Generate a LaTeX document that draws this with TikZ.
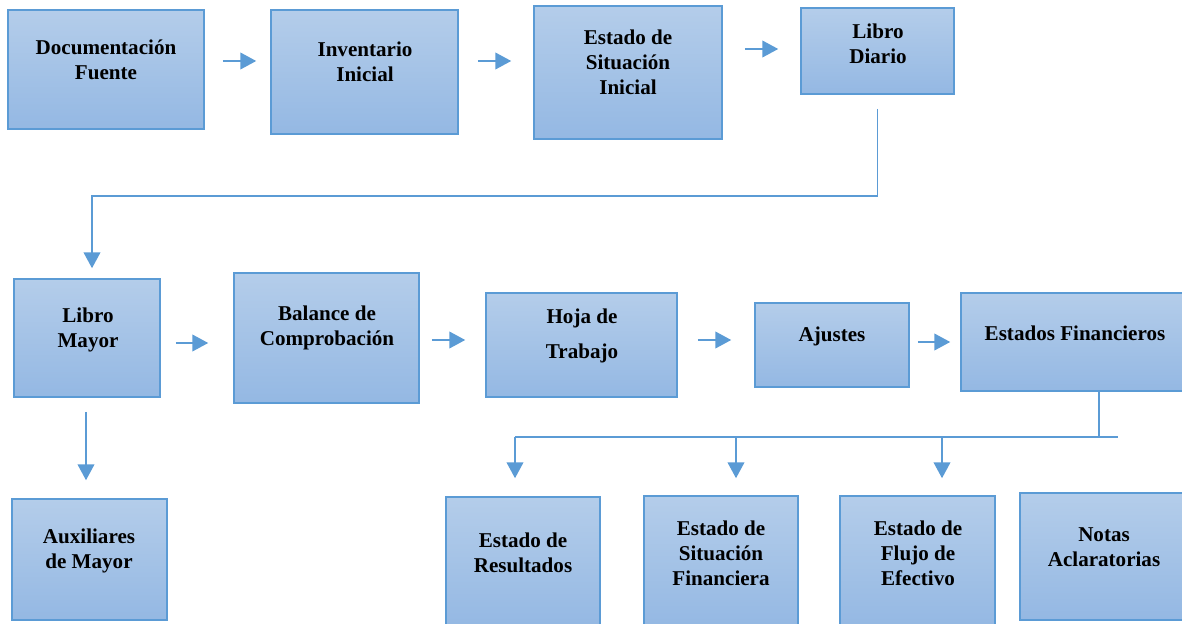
\documentclass[tikz,border=0pt]{standalone}
\usepackage{fontspec}
\setmainfont{Liberation Serif}
\usetikzlibrary{arrows.meta,fit,calc}
\definecolor{edgec}{HTML}{5B9BD5}
\definecolor{topc}{HTML}{B4CDEA}
\definecolor{botc}{HTML}{94B8E3}
\tikzset{
 box/.style={draw=edgec, line width=0.9pt, top color=topc, bottom color=botc, inner sep=0pt},
 txt/.style={font=\bfseries\fontsize{12}{14.2}\selectfont, align=center, text=black, inner sep=0pt},
 conn/.style={draw=edgec, line width=0.85pt},
 arr/.style={conn, -{Triangle[length=9pt,width=9.5pt]}},
}
\begin{document}
\begin{tikzpicture}[x=0.02cm,y=-0.02cm]
\useasboundingbox (0,0) rectangle (1182,624);
% boxes row 1
\node[box, fit={(8,10)(204,129)}] (a) {};
\node[box, fit={(271,10)(458,134)}] (b) {};
\node[box, fit={(534,6)(722,139)}] (c) {};
\node[box, fit={(801,8)(954,94)}] (d) {};
% row 2
\node[box, fit={(14,279)(160,397)}] (e) {};
\node[box, fit={(234,273)(419,403)}] (f) {};
\node[box, fit={(486,293)(677,397)}] (g) {};
\node[box, fit={(755,303)(909,387)}] (h) {};
\node[box, fit={(961,293)(1184,391)}] (i) {};
% row 3
\node[box, fit={(12,499)(167,620)}] (j) {};
\node[box, fit={(446,497)(600,628)}] (k) {};
\node[box, fit={(644,496)(798,628)}] (l) {};
\node[box, fit={(840,496)(995,628)}] (m) {};
\node[box, fit={(1020,493)(1184,620)}] (n) {};
% texts
\node[txt] (ta) at (106,60) {Documentación\\Fuente};
\node[txt] (tb) at (365,62) {Inventario\\Inicial};
\node[txt] (tc) at (628,62) {Estado de\\Situación\\Inicial};
\node[txt] (td) at (878,44) {Libro\\Diario};
\node[txt] (te) at (88,330) {Libro\\Mayor};
\node[txt] (tf) at (327,328) {Balance de\\Comprobación};
\node[txt] (tg) at (582,336) {Hoja de\\[6pt]Trabajo};
\node[txt] (th) at (832,336) {Ajustes};
\node[txt] (ti) at (1075,333) {Estados Financieros};
\node[txt] (tj) at (89,551) {Auxiliares\\de Mayor};
\node[txt] (tk) at (523,553) {Estado de\\Resultados};
\node[txt] (tl) at (721,553) {Estado de\\Situación\\Financiera};
\node[txt] (tm) at (918,553) {Estado de\\Flujo de\\Efectivo};
\node[txt] (tn) at (1104,547) {Notas\\Aclaratorias};
% row 1 arrows
\draw[arr] ($(a.east |- 0,61)+(18,0)$) -- ($(b.west |- 0,61)+(-14,0)$);
\draw[arr] ($(b.east |- 0,61)+(19,0)$) -- ($(c.west |- 0,61)+(-22,0)$);
\draw[arr] ($(c.east |- 0,49)+(22,0)$) -- ($(d.west |- 0,49)+(-22,0)$);
% Libro Diario to Libro Mayor
\draw[arr] ($(d.south)+(0,14)$) |- (92,196) -- ($(e.north -| 92,0)+(0,-10)$);
% row 2 arrows
\draw[arr] ($(e.east |- 0,343)+(15,0)$) -- ($(f.west |- 0,343)+(-25,0)$);
\draw[arr] ($(f.east |- 0,340)+(12,0)$) -- ($(g.west |- 0,340)+(-20,0)$);
\draw[arr] ($(g.east |- 0,340)+(20,0)$) -- ($(h.west |- 0,340)+(-23,0)$);
\draw[arr] ($(h.east |- 0,342)+(8,0)$) -- ($(i.west |- 0,342)+(-10,0)$);
% Libro Mayor to Auxiliares
\draw[arr] ($(e.south -| 86,0)+(0,14)$) -- ($(j.north -| 86,0)+(0,-18)$);
% Estados Financieros branches
\draw[conn] (i.south -| 1099,0) -- (1099,438);
\draw[conn] (515,437) -- (1118,437);
\draw[arr] (515,437) -- ($(k.north -| 515,0)+(0,-18)$);
\draw[arr] (736,437) -- ($(l.north -| 736,0)+(0,-17)$);
\draw[arr] (942,437) -- ($(m.north -| 942,0)+(0,-17)$);
\end{tikzpicture}
\end{document}
